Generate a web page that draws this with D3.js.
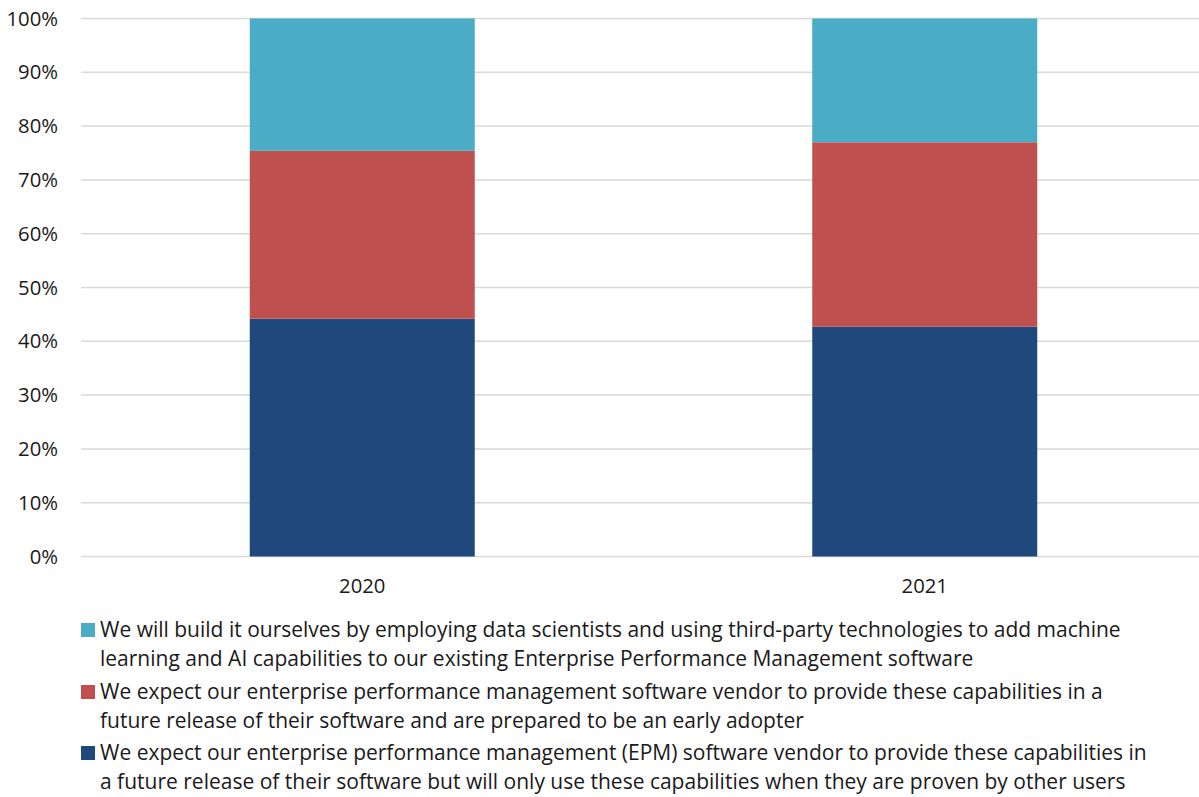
<!DOCTYPE html>
<html>
<head>
<meta charset="utf-8">
<script src="https://cdn.jsdelivr.net/npm/d3@7"></script>
<style>
  html, body { margin: 0; padding: 0; background: #fff; }
  svg text { font-family: "Open Sans", "Noto Sans", sans-serif; fill: #1a1a1a; }
</style>
</head>
<body>
<svg id="chart" width="1199" height="797"></svg>
<script>
// Survey years
const years = ["2020", "2021"];

// Share of respondents per answer (percent), bottom segment first
const provenOnly   = [44.2, 42.7];
const earlyAdopter = [31.2, 34.3];
const buildOwn     = [24.6, 23.0];

// Y-axis tick labels
const yTicks = [0, 10, 20, 30, 40, 50, 60, 70, 80, 90, 100];

// Legend entries, top to bottom, with their line breaks
const legendLines = [
  ["We will build it ourselves by employing data scientists and using third-party technologies to add machine",
   "learning and AI capabilities to our existing Enterprise Performance Management software"],
  ["We expect our enterprise performance management software vendor to provide these capabilities in a",
   "future release of their software and are prepared to be an early adopter"],
  ["We expect our enterprise performance management (EPM) software vendor to provide these capabilities in",
   "a future release of their software but will only use these capabilities when they are proven by other users"]
];

const seriesKeys = ["provenOnly", "earlyAdopter", "buildOwn"];
const colors = { provenOnly: "#1f497d", earlyAdopter: "#c0504d", buildOwn: "#4bacc6" };

const rows = years.map((y, i) => ({
  year: y,
  provenOnly: provenOnly[i],
  earlyAdopter: earlyAdopter[i],
  buildOwn: buildOwn[i]
}));

const svg = d3.select("#chart");

const x = d3.scaleBand()
  .domain(years)
  .range([81, 1206])
  .paddingInner(0.6)
  .paddingOuter(0.3);

const y = d3.scaleLinear()
  .domain([0, 100])
  .range([556.5, 18.5]);

// Horizontal gridlines
svg.append("g")
  .selectAll("line")
  .data(yTicks)
  .join("line")
  .attr("x1", 81)
  .attr("x2", 1199)
  .attr("y1", d => y(d))
  .attr("y2", d => y(d))
  .attr("stroke", "#d9d9d9")
  .attr("stroke-width", 1.5);

// Y-axis labels
const yAxis = svg.append("g")
  .attr("transform", "translate(64,0)")
  .call(d3.axisLeft(y).tickValues(yTicks).tickFormat(d => d + "%").tickSize(0).tickPadding(6));
yAxis.select(".domain").remove();
yAxis.selectAll("text")
  .attr("font-size", 20.3)
  .attr("font-family", "'Open Sans', sans-serif")
  .attr("fill", "#1a1a1a");

// Stacked bars
const stacked = d3.stack().keys(seriesKeys)(rows);
svg.append("g")
  .selectAll("g")
  .data(stacked)
  .join("g")
  .attr("fill", d => colors[d.key])
  .selectAll("rect")
  .data(d => d)
  .join("rect")
  .attr("x", d => x(d.data.year))
  .attr("width", x.bandwidth())
  .attr("y", d => y(d[1]))
  .attr("height", d => y(d[0]) - y(d[1]));

// X-axis labels
const xAxis = svg.append("g")
  .attr("transform", "translate(0,556.5)")
  .call(d3.axisBottom(x).tickSize(0).tickPadding(22));
xAxis.select(".domain").remove();
xAxis.selectAll("text")
  .attr("font-size", 20.3)
  .attr("font-family", "'Open Sans', sans-serif")
  .attr("fill", "#1a1a1a");

// Legend
const legendColors = ["buildOwn", "earlyAdopter", "provenOnly"].map(k => colors[k]);
const legendTop = [630, 692, 753];
const legend = svg.append("g");
legendLines.forEach((lines, i) => {
  legend.append("rect")
    .attr("x", 81)
    .attr("y", legendTop[i] - 7)
    .attr("width", 14)
    .attr("height", 14)
    .attr("fill", legendColors[i]);
  legend.append("g")
    .selectAll("text")
    .data(lines)
    .join("text")
    .attr("x", 100)
    .attr("y", (d, j) => legendTop[i] + j * 29)
    .attr("dy", "0.35em")
    .attr("font-size", 21)
    .text(d => d);
});
</script>
</body>
</html>
